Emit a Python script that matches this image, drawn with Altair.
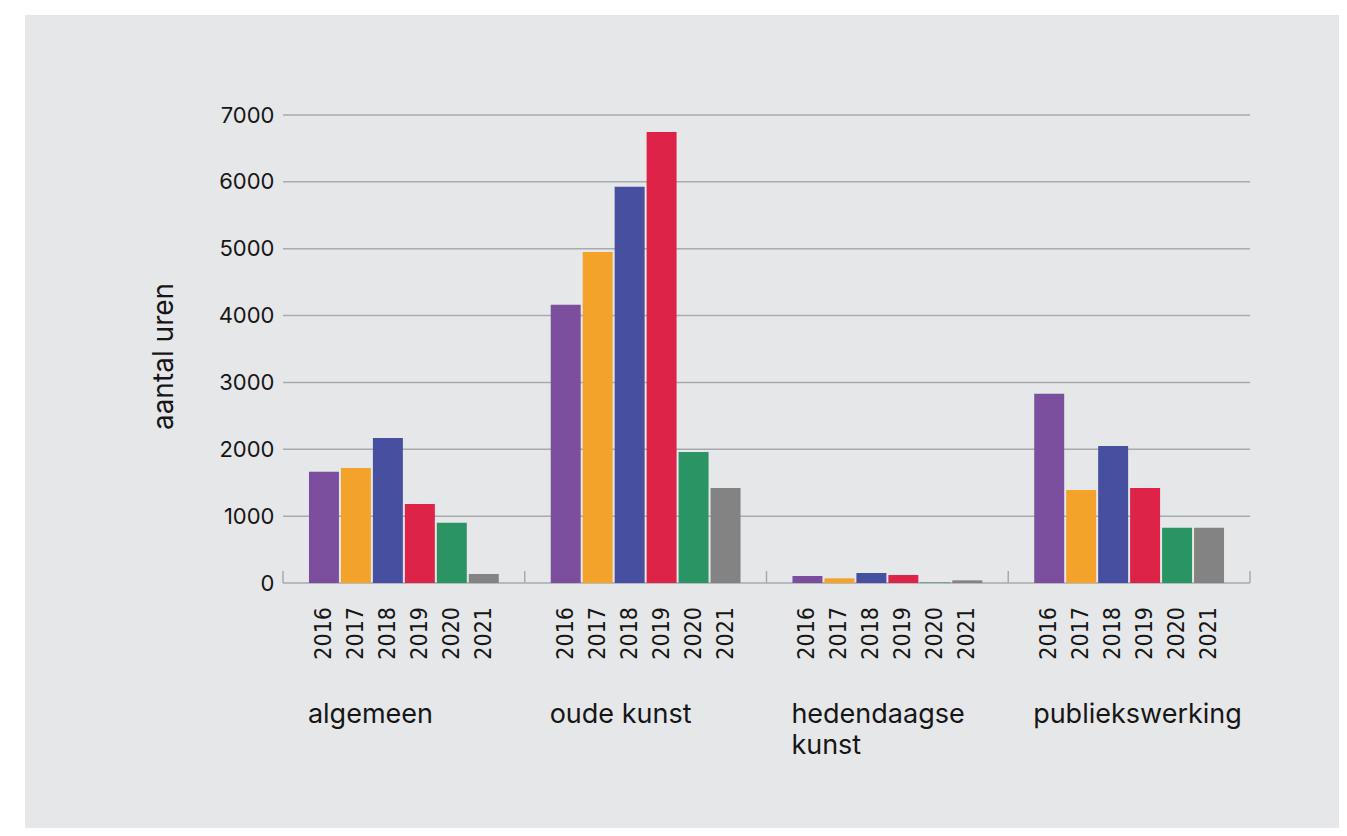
import altair as alt
import pandas as pd

years = ["2016", "2017", "2018", "2019", "2020", "2021"]
groups = ["algemeen", "oude kunst", "hedendaagse kunst", "publiekswerking"]
group_labels = ["algemeen", "oude kunst", "hedendaagse\nkunst", "publiekswerking"]

algemeen = [1665, 1720, 2170, 1180, 900, 135]
oude_kunst = [4160, 4950, 5925, 6745, 1960, 1420]
hedendaagse_kunst = [105, 70, 150, 120, 8, 40]
publiekswerking = [2830, 1390, 2050, 1420, 825, 825]

colors = ["#7b4f9e", "#f4a32a", "#464fa0", "#dd2448", "#2b9464", "#838383"]
y_ticks = [0, 1000, 2000, 3000, 4000, 5000, 6000, 7000]

rows = []
for g, vals in zip(groups, [algemeen, oude_kunst, hedendaagse_kunst, publiekswerking]):
    for yr, v in zip(years, vals):
        rows.append({"group": g, "year": yr, "value": v})
df = pd.DataFrame(rows)
grid_df = pd.DataFrame({"value": y_ticks})
grp_df = pd.DataFrame({"group": groups, "label": group_labels})
last_df = pd.DataFrame({"group": [groups[-1]]})
panel_df = pd.DataFrame({"p": [0]})

TXT = "#161616"
FONT = "Inter"

xscale = alt.Scale(domain=groups, paddingInner=0, paddingOuter=0)
x_enc = alt.X("group:N", sort=groups, scale=xscale, axis=None)
xoff_enc = alt.XOffset("year:N", sort=years,
                       scale=alt.Scale(domain=years, paddingInner=0.0625, paddingOuter=0.8125))
y_axis = alt.Axis(values=y_ticks, format="d", grid=False, ticks=False, domain=False,
                  labelFont=FONT, labelFontSize=22, labelColor=TXT, labelPadding=9,
                  title="aantal uren", titleFont=FONT, titleFontSize=28,
                  titleFontWeight="normal", titleColor=TXT,
                  titleX=-119, titleY=241, titleAngle=270,
                  titleAlign="center", titleBaseline="middle", zindex=1)
y_enc = alt.Y("value:Q", scale=alt.Scale(domain=[0, 7000], nice=False), axis=y_axis)

panel = alt.Chart(panel_df).mark_rect(color="#e6e7e9").encode(
    x=alt.value(-258), x2=alt.value(1200), y=alt.value(-100), y2=alt.value(900)
)

grid = alt.Chart(grid_df).mark_rule(color="#a9aaac", strokeWidth=1.5).encode(y=y_enc)

bars = alt.Chart(df).mark_bar().encode(
    x=x_enc,
    xOffset=xoff_enc,
    y=y_enc,
    color=alt.Color("year:N", sort=years,
                    scale=alt.Scale(domain=years, range=colors), legend=None),
)

ticks = alt.Chart(grp_df).mark_rule(color="#a9aaac", strokeWidth=1.5).encode(
    x=alt.X("group:N", sort=groups, scale=xscale, axis=None, bandPosition=0),
    y=alt.value(456), y2=alt.value(468),
)
tick_end = alt.Chart(last_df).mark_rule(color="#a9aaac", strokeWidth=1.5).encode(
    x=alt.X("group:N", sort=groups, scale=xscale, axis=None, bandPosition=1),
    y=alt.value(456), y2=alt.value(468),
)

year_text = alt.Chart(df).mark_text(
    angle=270, align="right", baseline="middle",
    font="Liberation Sans Narrow, DejaVu Sans Condensed, sans-serif",
    fontSize=23, color=TXT,
).encode(x=x_enc, xOffset=xoff_enc, y=alt.value(492), text="year:N")

group_text = alt.Chart(grp_df).mark_text(
    align="left", baseline="alphabetic", dx=-96, lineBreak="\n", lineHeight=31,
    font=FONT, fontSize=27, color=TXT,
).encode(x=x_enc, y=alt.value(608), text="label:N")

chart = alt.layer(panel, grid, bars, ticks, tick_end, year_text, group_text).properties(
    width=967, height=468,
    padding={"left": 275, "top": 107, "right": 89, "bottom": 245},
    autosize=alt.AutoSizeParams(type="none"),
    background="white",
).configure_view(stroke=None)

chart.save("out.html", embed_options={"renderer": "svg", "actions": False})
